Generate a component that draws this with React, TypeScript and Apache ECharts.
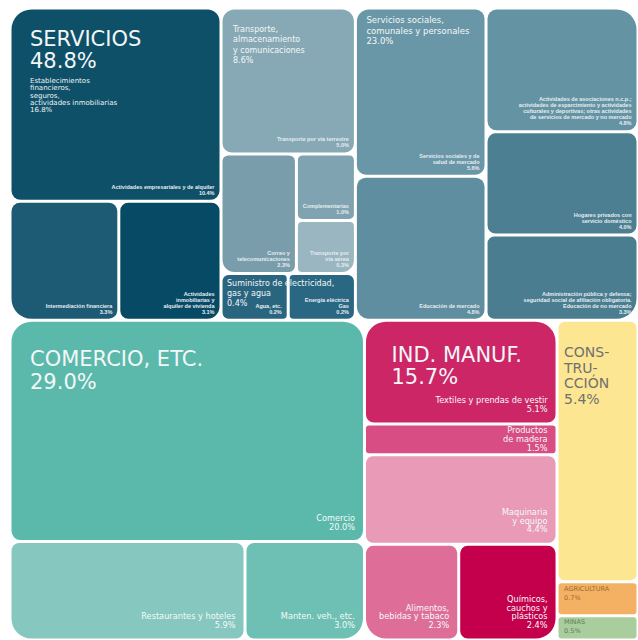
import React, { useEffect, useRef } from "react";
import * as echarts from "echarts";

// ---------- DATA (shares of GDP, %) ----------
const sectorNames = ["SERVICIOS", "COMERCIO, ETC.", "IND. MANUF.", "CONS-\nTRU-\nCCIÓN", "AGRICULTURA", "MINAS"];
const sectorShares = [48.8, 29.0, 15.7, 5.4, 0.7, 0.5];

const servicioGroupNames = [
  "Establecimientos\nfinancieros,\nseguros,\nactividades inmobiliarias",
  "Transporte,\nalmacenamiento\ny comunicaciones",
  "Suministro de electricidad,\ngas y agua",
  "Servicios sociales,\ncomunales y personales",
];
const servicioGroupShares = [16.8, 8.6, 0.4, 23.0];

const financierosNames = [
  "Actividades empresariales y de alquiler",
  "Intermediación financiera",
  "Actividades\ninmobiliarias y\nalquiler de vivienda",
];
const financierosShares = [10.4, 3.3, 3.1];

const transporteNames = [
  "Transporte por vía terrestre",
  "Correo y\ntelecomunicaciones",
  "Complementarias",
  "Transporte por\nvía aérea",
];
const transporteShares = [5.0, 2.3, 1.0, 0.3];

const suministroNames = ["Agua, etc.", "Energía eléctrica\nGas"];
const suministroShares = [0.2, 0.2];

const socialesNames = [
  "Servicios sociales y de\nsalud de mercado",
  "Educación de mercado",
  "Actividades de asociaciones n.c.p.;\nactividades de esparcimiento y actividades\nculturales y deportivas; otras actividades\nde servicios de mercado y no mercado",
  "Hogares privados con\nservicio doméstico",
  "Administración pública y defensa;\nseguridad social de afiliación obligatoria.\nEducación de no mercado",
];
const socialesShares = [5.6, 4.8, 4.8, 4.0, 3.3];

const comercioNames = ["Comercio", "Restaurantes y hoteles", "Manten. veh., etc."];
const comercioShares = [20.0, 5.9, 3.0];

const manufNames = [
  "Textiles y prendas de vestir",
  "Productos\nde madera",
  "Maquinaria\ny equipo",
  "Alimentos,\nbebidas y tabaco",
  "Químicos,\ncauchos y\nplásticos",
];
const manufShares = [5.1, 1.5, 4.4, 2.3, 2.4];

// ---------- STYLES ----------
const financierosColors = ["#0f5069", "#1d5a73", "#064a66"];
const transporteColors = ["#87a9b6", "#7a9dab", "#7fa3b0", "#99b6c1"];
const suministroColors = ["#2a6580", "#2a6782"];
const socialesColors = ["#6a97a7", "#5f8ea0", "#6493a4", "#4d7f92", "#4b7d90"];
const comercioColors = ["#5bb9ab", "#86c8bf", "#6fc0b4"];
const manufColors = ["#cd2667", "#d74d84", "#e89ab6", "#de6e98", "#c4004c"];
const otrosColors = ["#fde692", "#f5b163", "#a9cd9c"];

const FONT = "'DejaVu Sans', Verdana, sans-serif";
const SMALL_FONT = "'Liberation Sans', Arial, sans-serif";
// smallest layout share given to a services cell so that its label stays legible
const MIN_SERVICE_CELL_SHARE = 0.8;

const fmt = (v: number) => v.toFixed(1) + "%";

type Label = {
  text: string;
  size: number;
  lh: number;
  fill: string;
  dx: number;
  dy: number;
};
type TNode = {
  name?: string;
  value?: number;
  color?: string;
  kind?: "s" | "m" | "t";
  dir?: "h" | "v";
  children?: TNode[];
  radius?: number;
  label?: Label;
};

const leaf = (name: string, value: number, color: string, kind: "s" | "m" | "t", label?: Label): TNode => ({
  name,
  value,
  color,
  kind,
  label,
});
const grp = (dir: "h" | "v", children: TNode[], radius = 0, label?: Label): TNode => ({ dir, children, radius, label });

const mkLabel = (name: string, share: number, size: number, lh: number, dx: number, dy: number, fill = "#f3f7f8"): Label => ({
  text: name + "\n" + fmt(share),
  size,
  lh,
  fill,
  dx,
  dy,
});

const financieros = grp(
  "v",
  [
    leaf(financierosNames[0], financierosShares[0], financierosColors[0], "s"),
    grp("h", [
      leaf(financierosNames[1], financierosShares[1], financierosColors[1], "s"),
      leaf(financierosNames[2], financierosShares[2], financierosColors[2], "s"),
    ]),
  ],
  12,
  mkLabel(servicioGroupNames[0], servicioGroupShares[0], 7, 7.4, 20, 69, "#eef3f5")
);

const transporte = grp(
  "v",
  [
    leaf(transporteNames[0], transporteShares[0], transporteColors[0], "s"),
    grp("h", [
      leaf(transporteNames[1], transporteShares[1], transporteColors[1], "s"),
      grp("v", [
        leaf(transporteNames[2], transporteShares[2], transporteColors[2], "s"),
        leaf(transporteNames[3], transporteShares[3], transporteColors[3], "s"),
      ]),
    ]),
  ],
  12,
  mkLabel(servicioGroupNames[1], servicioGroupShares[1], 8, 10.5, 12, 16)
);

const suministro = grp(
  "h",
  [
    leaf(suministroNames[0], suministroShares[0], suministroColors[0], "s"),
    leaf(suministroNames[1], suministroShares[1], suministroColors[1], "s"),
  ],
  6,
  mkLabel(servicioGroupNames[2], servicioGroupShares[2], 8, 10, 6, 5)
);

const sociales = grp(
  "h",
  [
    grp("v", [
      leaf(socialesNames[0], socialesShares[0], socialesColors[0], "s"),
      leaf(socialesNames[1], socialesShares[1], socialesColors[1], "s"),
    ]),
    grp("v", [
      leaf(socialesNames[2], socialesShares[2], socialesColors[2], "s"),
      leaf(socialesNames[3], socialesShares[3], socialesColors[3], "s"),
      leaf(socialesNames[4], socialesShares[4], socialesColors[4], "s"),
    ]),
  ],
  12,
  mkLabel(servicioGroupNames[3], servicioGroupShares[3], 8.5, 10.5, 11, 7)
);

const servicios = grp(
  "h",
  [financieros, grp("v", [transporte, suministro]), sociales],
  20,
  mkLabel(sectorNames[0], sectorShares[0], 21, 22, 20, 20)
);

const comercio = grp(
  "v",
  [
    leaf(comercioNames[0], comercioShares[0], comercioColors[0], "m"),
    grp("h", [
      leaf(comercioNames[1], comercioShares[1], comercioColors[1], "m"),
      leaf(comercioNames[2], comercioShares[2], comercioColors[2], "m"),
    ]),
  ],
  20,
  mkLabel(sectorNames[1], sectorShares[1], 21, 23, 20, 27)
);

const manuf = grp(
  "v",
  [
    leaf(manufNames[0], manufShares[0], manufColors[0], "m"),
    leaf(manufNames[1], manufShares[1], manufColors[1], "m"),
    leaf(manufNames[2], manufShares[2], manufColors[2], "m"),
    grp("h", [
      leaf(manufNames[3], manufShares[3], manufColors[3], "m"),
      leaf(manufNames[4], manufShares[4], manufColors[4], "m"),
    ]),
  ],
  20,
  mkLabel(sectorNames[2], sectorShares[2], 21, 22, 27, 24)
);

const otros = grp("v", [
  leaf(sectorNames[3], sectorShares[3], otrosColors[0], "t", mkLabel(sectorNames[3], sectorShares[3], 14, 15.5, 7, 24, "#707070")),
  leaf(sectorNames[4], sectorShares[4], otrosColors[1], "t", mkLabel(sectorNames[4], sectorShares[4], 6.5, 9, 7, 3, "#9a6a35")),
  leaf(sectorNames[5], sectorShares[5], otrosColors[2], "t", mkLabel(sectorNames[5], sectorShares[5], 6.5, 9, 7, 2, "#5e7d58")),
]);

const root = grp("v", [servicios, grp("h", [comercio, manuf, otros])]);

// ---------- LAYOUT (slice-and-dice in value space, areas follow shares) ----------
type Rect = { x0: number; y0: number; x1: number; y1: number };
const leaves: { node: TNode; r: Rect; corners: number[] }[] = [];
const groups: { node: TNode; r: Rect }[] = [];

const weight = (n: TNode): number =>
  n.children
    ? n.children.reduce((s, c) => s + weight(c), 0)
    : n.kind === "s"
    ? Math.max(n.value || 0, MIN_SERVICE_CELL_SHARE)
    : n.value || 0;
const eq = (a: number, b: number) => Math.abs(a - b) < 1e-6;

function layout(n: TNode, r: Rect, anc: { node: TNode; r: Rect }[]) {
  if (!n.children) {
    const corners = [0, 0, 0, 0];
    for (const a of anc) {
      const R = a.node.radius || 0;
      if (!R) continue;
      if (eq(r.x0, a.r.x0) && eq(r.y0, a.r.y0)) corners[0] = Math.max(corners[0], R);
      if (eq(r.x1, a.r.x1) && eq(r.y0, a.r.y0)) corners[1] = Math.max(corners[1], R);
      if (eq(r.x1, a.r.x1) && eq(r.y1, a.r.y1)) corners[2] = Math.max(corners[2], R);
      if (eq(r.x0, a.r.x0) && eq(r.y1, a.r.y1)) corners[3] = Math.max(corners[3], R);
    }
    leaves.push({ node: n, r, corners });
    return;
  }
  if (n.label) groups.push({ node: n, r });
  const total = weight(n);
  const next = [...anc, { node: n, r }];
  let acc = 0;
  n.children.forEach((c, i) => {
    const w = weight(c);
    const a0 = acc / total;
    const a1 = i === n.children!.length - 1 ? 1 : (acc + w) / total;
    acc += w;
    const cr: Rect =
      n.dir === "h"
        ? { x0: r.x0 + (r.x1 - r.x0) * a0, x1: r.x0 + (r.x1 - r.x0) * a1, y0: r.y0, y1: r.y1 }
        : { y0: r.y0 + (r.y1 - r.y0) * a0, y1: r.y0 + (r.y1 - r.y0) * a1, x0: r.x0, x1: r.x1 };
    layout(c, cr, next);
  });
}
layout(root, { x0: 0, y0: 0, x1: 100, y1: 100 }, []);

export default function App() {
  const ref = useRef<HTMLDivElement>(null);
  useEffect(() => {
    if (!ref.current) return;
    const chart = echarts.init(ref.current, undefined, { renderer: "svg" });
    const GAP = 1.5;
    chart.setOption({
      animation: false,
      backgroundColor: "#ffffff",
      grid: { left: 10, top: 8, width: 635, height: 640 },
      xAxis: { type: "value", min: 0, max: 100, show: false },
      yAxis: { type: "value", min: 0, max: 100, inverse: true, show: false },
      series: [
        {
          type: "custom",
          silent: true,
          coordinateSystem: "cartesian2d",
          encode: { x: [0, 2], y: [1, 3] },
          data: leaves.map((l) => [l.r.x0, l.r.y0, l.r.x1, l.r.y1]),
          renderItem: (params: any, api: any) => {
            const L = leaves[params.dataIndex];
            const n = L.node;
            const p0 = api.coord([api.value(0), api.value(1)]);
            const p1 = api.coord([api.value(2), api.value(3)]);
            const x = p0[0] + GAP;
            const y = p0[1] + GAP;
            const w = p1[0] - p0[0] - 2 * GAP;
            const h = p1[1] - p0[1] - 2 * GAP;
            const cap = Math.min(w, h) / 2;
            const base = Math.max(3, Math.min(9, Math.min(w, h) * 0.08));
            const r = L.corners.map((c) => Math.min(Math.max(c, base), cap));
            const children: any[] = [
              { type: "rect", shape: { x, y, width: w, height: h, r }, style: { fill: n.color } },
            ];
            const text = n.kind === "t" ? n.label!.text : n.name + "\n" + fmt(n.value || 0);
            const lines = text.split("\n").length;
            if (n.kind === "s") {
              const lh = 6;
              const padB = Math.max(1, Math.min(4, (h - lines * lh) / 2));
              children.push({
                type: "text",
                x: x + w - 5,
                y: y + h - padB,
                style: {
                  text,
                  fill: "#e6edf0",
                  fontFamily: SMALL_FONT,
                  fontWeight: "bold",
                  fontSize: 5.5,
                  lineHeight: lh,
                  align: "right",
                  verticalAlign: "bottom",
                },
              });
            } else if (n.kind === "m") {
              const lh = 8.8;
              const padB = Math.max(1, Math.min(9, (h - lines * lh) / 2));
              children.push({
                type: "text",
                x: x + w - 8,
                y: y + h - padB,
                style: {
                  text,
                  fill: "#f5f9f8",
                  fontFamily: FONT,
                  fontSize: 8.2,
                  lineHeight: lh,
                  align: "right",
                  verticalAlign: "bottom",
                },
              });
            } else {
              const lb = n.label!;
              children.push({
                type: "text",
                x: p0[0] + lb.dx,
                y: p0[1] + lb.dy,
                style: {
                  text,
                  fill: lb.fill,
                  fontFamily: FONT,
                  fontSize: lb.size,
                  lineHeight: lb.lh,
                  align: "left",
                  verticalAlign: "top",
                },
              });
            }
            return { type: "group", children };
          },
          z: 2,
        },
        {
          type: "custom",
          silent: true,
          coordinateSystem: "cartesian2d",
          encode: { x: [0, 2], y: [1, 3] },
          data: groups.map((g) => [g.r.x0, g.r.y0, g.r.x1, g.r.y1]),
          renderItem: (params: any, api: any) => {
            const G = groups[params.dataIndex];
            const lb = G.node.label!;
            const p0 = api.coord([api.value(0), api.value(1)]);
            return {
              type: "text",
              x: p0[0] + lb.dx,
              y: p0[1] + lb.dy,
              style: {
                text: lb.text,
                fill: lb.fill,
                fontFamily: FONT,
                fontSize: lb.size,
                lineHeight: lb.lh,
                align: "left",
                verticalAlign: "top",
              },
            };
          },
          z: 3,
        },
      ],
    });
    return () => chart.dispose();
  }, []);
  return (
    <div
      ref={ref}
      style={{ position: "absolute", left: 0, top: 0, width: 638, height: 640, background: "#fff" }}
    />
  );
}
